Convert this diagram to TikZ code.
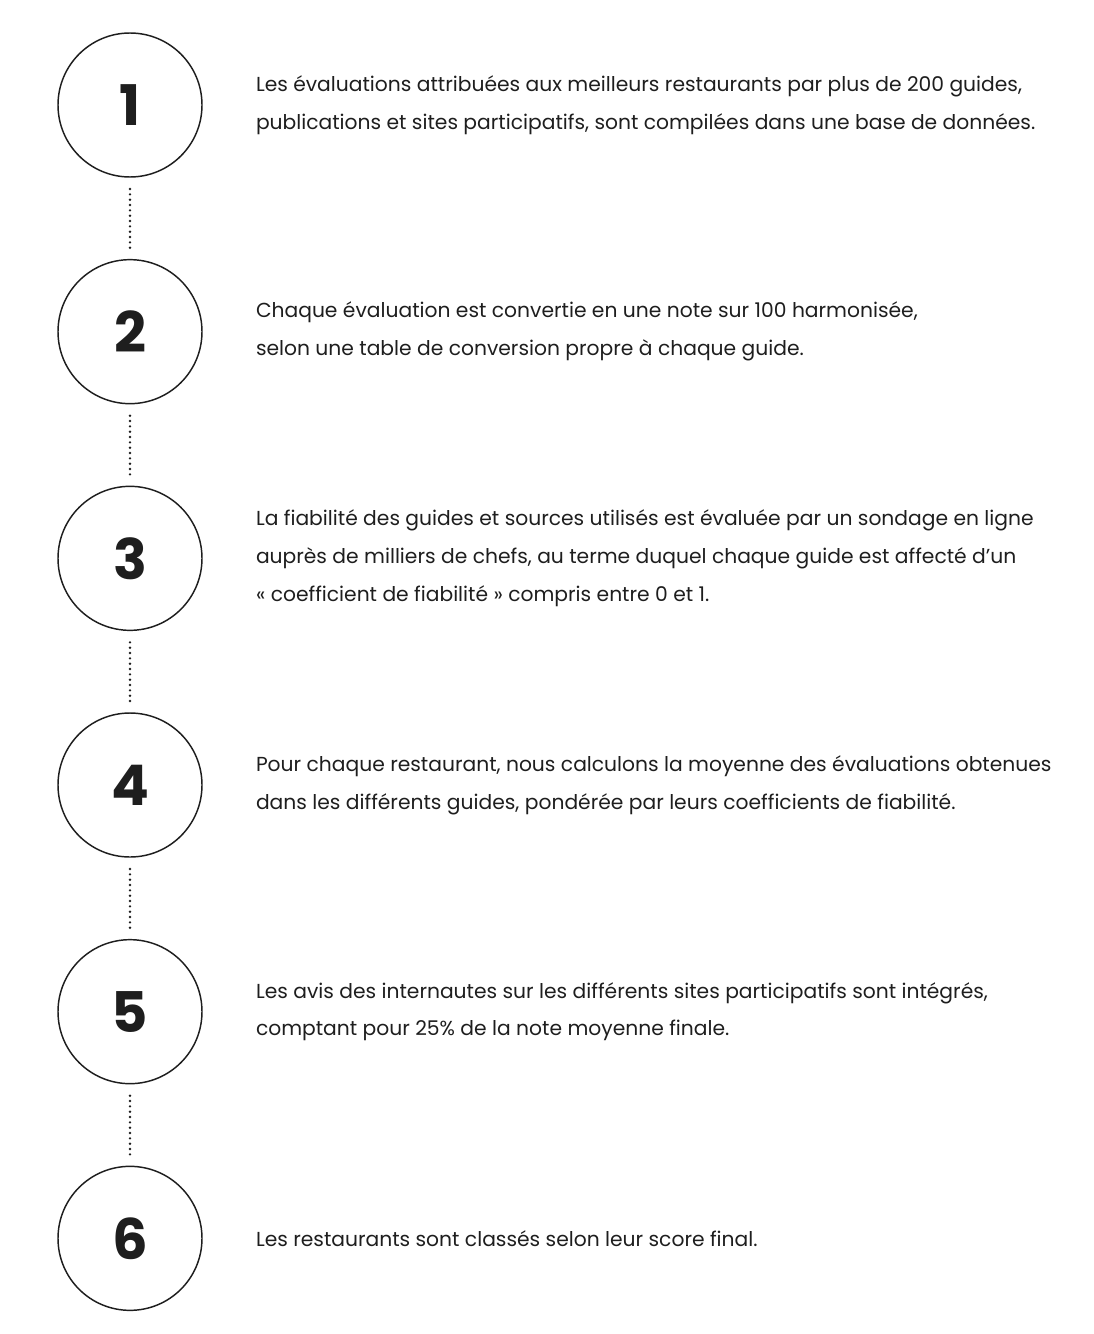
\documentclass[tikz,border=0pt]{standalone}
\usepackage{fontspec}
\setmainfont{Poppins}
\newfontfamily\numfont{Poppins}
\usepackage{xcolor}
\usetikzlibrary{positioning}

\definecolor{ink}{HTML}{1E1E1E}

\begin{document}
\begin{tikzpicture}[
  stepnum/.style={draw=ink, circle, line width=1.1pt, minimum size=108pt, inner sep=0pt,
                  font=\numfont\bfseries\fontsize{42}{42}\selectfont, text=ink},
  steptxt/.style={anchor=west, align=left, inner sep=0pt, text=ink,
                  font=\fontsize{15.2}{28.4}\selectfont},
  dots/.style={draw=ink, line width=2pt, line cap=round, dash pattern=on 0pt off 4pt},
  node distance=60.9pt
]
\useasboundingbox (0,0) rectangle (819.75pt,-1000.5pt);

\node[stepnum] (c1) at (97.5pt,-78.75pt) {1};
\node[stepnum, below=of c1] (c2) {2};
\node[stepnum, below=of c2] (c3) {3};
\node[stepnum, below=of c3] (c4) {4};
\node[stepnum, below=of c4] (c5) {5};
\node[stepnum, below=of c5] (c6) {6};

\node[steptxt, right=39.75pt of c1] (t1) {Les évaluations attribuées aux meilleurs restaurants par plus de 200 guides,\\
publications et sites participatifs, sont compilées dans une base de données.};
\node[steptxt, right=39.75pt of c2] (t2) {Chaque évaluation est convertie en une note sur 100 harmonisée,\\
selon une table de conversion propre à chaque guide.};
\node[steptxt, right=39.75pt of c3] (t3) {La fiabilité des guides et sources utilisés est évaluée par un sondage en ligne\\
auprès de milliers de chefs, au terme duquel chaque guide est affecté d’un\\
« coefficient de fiabilité » compris entre 0 et 1.};
\node[steptxt, right=39.75pt of c4] (t4) {Pour chaque restaurant, nous calculons la moyenne des évaluations obtenues\\
dans les différents guides, pondérée par leurs coefficients de fiabilité.};
\node[steptxt, right=39.75pt of c5] (t5) {Les avis des internautes sur les différents sites participatifs sont intégrés,\\
comptant pour 25\% de la note moyenne finale.};
\node[steptxt, right=39.75pt of c6] (t6) {Les restaurants sont classés selon leur score final.};

\draw[dots] ([yshift=-8.5pt]c1.south) -- ([yshift=7.5pt]c2.north);
\draw[dots] ([yshift=-8.5pt]c2.south) -- ([yshift=7.5pt]c3.north);
\draw[dots] ([yshift=-8.5pt]c3.south) -- ([yshift=7.5pt]c4.north);
\draw[dots] ([yshift=-8.5pt]c4.south) -- ([yshift=7.5pt]c5.north);
\draw[dots] ([yshift=-8.5pt]c5.south) -- ([yshift=7.5pt]c6.north);
\end{tikzpicture}
\end{document}
